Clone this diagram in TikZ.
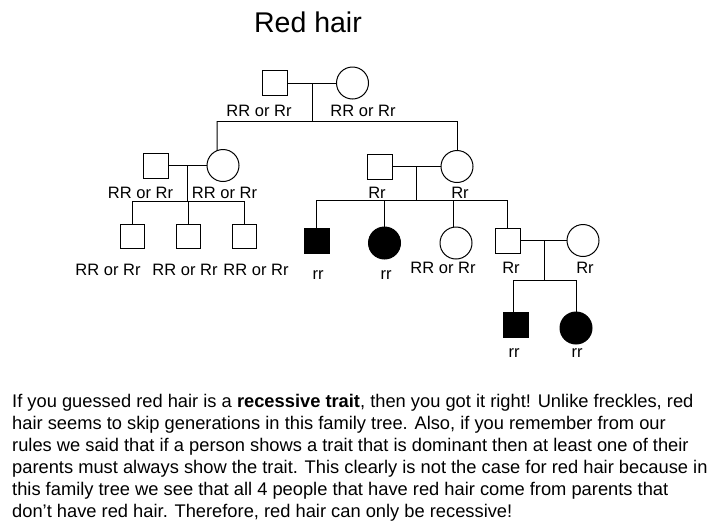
\documentclass[tikz,border=0pt]{standalone}
\usepackage{fontspec}
\setmainfont{Liberation Sans}
\tikzset{male/.style={draw,minimum width=25pt,minimum height=25pt,inner sep=0pt},
  female/.style={draw,circle,minimum size=32pt,inner sep=0pt},
  affected/.style={fill=black},
  geno/.style={font=\fontsize{16.5}{18}\selectfont,inner sep=0pt}}

\begin{document}
\begin{tikzpicture}[x=1pt,y=-1pt,line width=1pt]
  \useasboundingbox (0,0) rectangle (728,528);
  \node[font=\fontsize{28.5}{30}\selectfont,inner sep=0pt,anchor=base] (title) at (308,32.7) {Red hair};
  % grandparents
  \node[male] (gpa) at (274.5,83) {};
  \node[female] (gma) at (352.5,83) {};
  \node[geno] (gpag) at (259,111) {RR or Rr};
  \node[geno] (gmag) at (363,111) {RR or Rr};
  \draw (gpa.east) -- (gma.west);
  \coordinate (c1) at (312,83);
  \coordinate (s1) at (312,121);
  \coordinate (s1l) at (217,121);
  \coordinate (s1r) at (457,121);
  \draw (c1) -- (s1);
  \draw (s1l) -- (s1r);
  % left couple
  \node[male] (dad1) at (155.5,165.5) {};
  \node[female] (mom1) at (223,165.5) {};
  \node[geno] (dad1g) at (140.5,193) {RR or Rr};
  \node[geno] (mom1g) at (224.5,193) {RR or Rr};
  \draw (dad1.east) -- (mom1.west);
  \draw (s1l) -- (mom1.111);
  \coordinate (c2) at (187,165.5);
  \coordinate (s2) at (187,201);
  \draw (c2) -- (s2);
  \foreach \x/\g [count=\i] in {132/108,188/185,244/256} {
    \node[male,minimum size=24pt] (kid\i) at (\x,236) {};
    \draw (kid\i.north |- s2) -- (kid\i.north);
    \node[geno] (kid\i g) at (\g,270) {RR or Rr};
  }
  \draw (kid1.north |- s2) -- (kid3.north |- s2);
  % right couple
  \node[male] (dad2) at (380,166.5) {};
  \node[female] (mom2) at (457,166.5) {};
  \node[geno] (dad2g) at (377,193) {Rr};
  \node[geno] (mom2g) at (460,193) {Rr};
  \draw (dad2.east) -- (mom2.west);
  \draw (s1r) -- (mom2.north);
  \coordinate (c3) at (416,166.5);
  \coordinate (s3) at (416,200);
  \draw (c3) -- (s3);
  \node[male,affected] (son1) at (316.5,240.5) {};
  \node[female,affected] (dau1) at (384.5,243) {};
  \node[female] (dau2) at (456,243) {};
  \node[male] (son2) at (507.5,240.5) {};
  \node[female] (wife) at (583,240.5) {};
  \node[geno] (son1g) at (318,275) {rr};
  \node[geno] (dau1g) at (386,275) {rr};
  \node[geno] (dau2g) at (443,268) {RR or Rr};
  \node[geno] (son2g) at (511,268) {Rr};
  \node[geno] (wifeg) at (585,268) {Rr};
  \draw (son1.north |- s3) -- (son2.north |- s3);
  \draw (son1.north |- s3) -- (son1.north);
  \draw (dau1.north |- s3) -- (dau1.north);
  \draw (dau2.100 |- s3) -- (dau2.100);
  \draw (son2.north |- s3) -- (son2.north);
  % last couple
  \draw (son2.east) -- (wife.west);
  \coordinate (c4) at (544,240.5);
  \coordinate (s4) at (544,280);
  \coordinate (s4l) at (513,280);
  \draw (c4) -- (s4);
  \node[male,affected] (gson) at (515.5,324.5) {};
  \node[female,affected] (gdau) at (576,328) {};
  \node[geno] (gsong) at (514,353) {rr};
  \node[geno] (gdaug) at (577,353) {rr};
  \draw (s4l) -- (gdau.north |- s4);
  \draw (s4l) -- (s4l |- gson.north);
  \draw (gdau.north |- s4) -- (gdau.north);
  % text
  \node[font=\fontsize{18.3}{22}\selectfont,align=left,anchor=base west,inner sep=0pt] (note) at (11.7,517)
    {If you guessed red hair is a \textbf{recessive trait}, then you got it right! Unlike freckles, red\\
     hair seems to skip generations in this family tree. Also, if you remember from our\\
     rules we said that if a person shows a trait that is dominant then at least one of their\\
     parents must always show the trait. This clearly is not the case for red hair because in\\
     this family tree we see that all 4 people that have red hair come from parents that\\
     don’t have red hair. Therefore, red hair can only be recessive!};
\end{tikzpicture}
\end{document}
